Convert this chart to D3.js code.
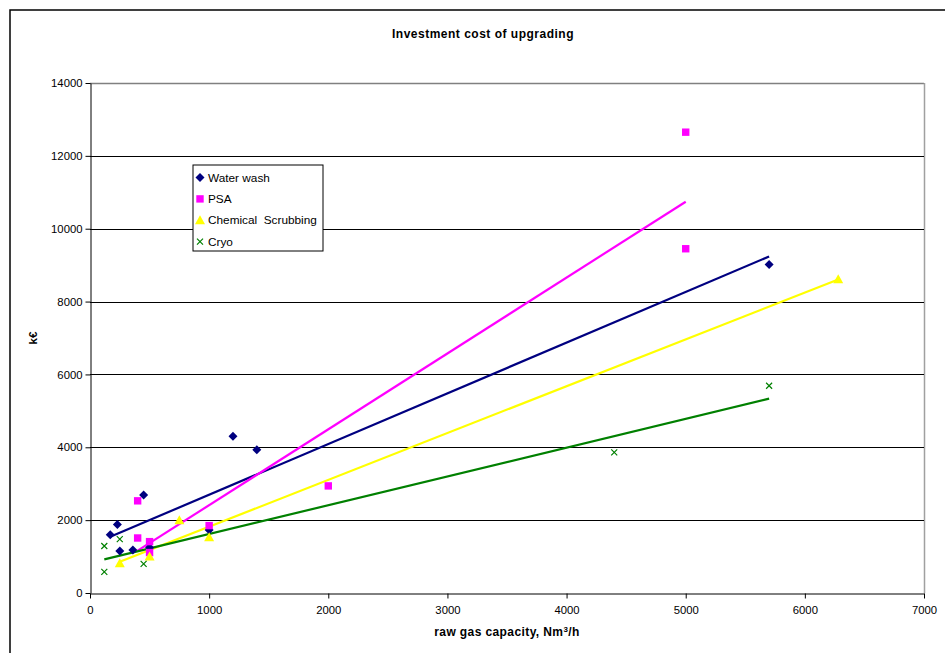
<!DOCTYPE html>
<html><head><meta charset="utf-8">
<script src="https://cdn.jsdelivr.net/npm/d3@7"></script>
<style>body{margin:0;background:#fff}svg{font-family:"Liberation Sans",Arial,sans-serif}</style>
</head><body><svg id="c" width="945" height="653"></svg>
<script>
const title = "Investment cost of upgrading";
const xTicks = [0,1000,2000,3000,4000,5000,6000,7000];
const yTicks = [0,2000,4000,6000,8000,10000,12000,14000];
const seriesNames = ["Water wash","PSA","Chemical  Scrubbing","Cryo"];
const seriesColors = ["#000080","#FF00FF","#FFFF00","#008000"];
const waterX = [170,230,450,250,360,500,1000,1200,1400,5700];
const waterY = [1600,1880,2690,1150,1180,1250,1730,4300,3930,9020];
const psaX = [400,400,500,500,1000,2000,5000,5000];
const psaY = [2530,1510,1410,1110,1850,2940,12650,9450];
const chemX = [250,500,750,1000,6280];
const chemY = [820,1000,2000,1530,8610];
const cryoX = [120,120,250,450,4400,5700];
const cryoY = [1290,580,1480,800,3860,5690];

const series = [
  {name:seriesNames[0],color:seriesColors[0],shape:"diamond",x:waterX,y:waterY},
  {name:seriesNames[1],color:seriesColors[1],shape:"square",x:psaX,y:psaY},
  {name:seriesNames[2],color:seriesColors[2],shape:"triangle",x:chemX,y:chemY},
  {name:seriesNames[3],color:seriesColors[3],shape:"cross",x:cryoX,y:cryoY}
];

const svg = d3.select("#c");
const L=90,R=924,T=83,B=593;
const x = d3.scaleLinear().domain([0,7000]).range([L,R]);
const y = d3.scaleLinear().domain([0,14000]).range([B,T]);

// outer chart border
svg.append("rect").attr("x",10).attr("y",10).attr("width",960).attr("height",700)
  .attr("fill","none").attr("stroke","#000").attr("stroke-width",1.5);

// plot border (top/right gray)
svg.append("line").attr("x1",L).attr("x2",R).attr("y1",T+0.5).attr("y2",T+0.5).attr("stroke","#808080").attr("stroke-width",1.5);
svg.append("line").attr("x1",R+0.5).attr("x2",R+0.5).attr("y1",T).attr("y2",B).attr("stroke","#a0a0a0").attr("stroke-width",1.5);

// gridlines
svg.append("g").selectAll("line").data(yTicks.filter(d=>d>0&&d<14000)).join("line")
  .attr("x1",L).attr("x2",R).attr("y1",d=>Math.round(y(d))+0.5).attr("y2",d=>Math.round(y(d))+0.5)
  .attr("stroke","#000").attr("stroke-width",1);

// axes
const xa = svg.append("g").attr("transform",`translate(0,${B+0.5})`)
  .call(d3.axisBottom(x).tickValues(xTicks).tickSize(5).tickSizeOuter(0).tickFormat(d3.format("d")));
const ya = svg.append("g").attr("transform",`translate(${L+0.5},0)`)
  .call(d3.axisLeft(y).tickValues(yTicks).tickSize(5).tickSizeOuter(0).tickFormat(d3.format("d")));
[xa,ya].forEach(a=>{a.select(".domain").attr("stroke","#000");a.selectAll(".tick line").attr("stroke","#000");
  a.selectAll("text").attr("font-size",11.3).attr("fill","#000").attr("font-family","'Liberation Sans',Arial,sans-serif");});
xa.selectAll("text").attr("dy","0.71em").attr("y",12);
ya.selectAll("text").attr("x",-8);

// trendlines (least squares) over each series' x-range
function fit(xs,ys){const n=xs.length,mx=d3.mean(xs),my=d3.mean(ys);
  let sxy=0,sxx=0;for(let i=0;i<n;i++){sxy+=(xs[i]-mx)*(ys[i]-my);sxx+=(xs[i]-mx)**2;}
  const b=sxy/sxx;return {b,a:my-b*mx};}
const lg = svg.append("g");
series.forEach(s=>{const f=fit(s.x,s.y);const x0=d3.min(s.x),x1=d3.max(s.x);
  lg.append("line").attr("x1",x(x0)).attr("y1",y(f.a+f.b*x0)).attr("x2",x(x1)).attr("y2",y(f.a+f.b*x1))
    .attr("stroke",s.color).attr("stroke-width",2.2);});

// markers
function marker(g,shape,color,cx,cy){
  if(shape==="diamond") g.append("path").attr("d",`M${cx},${cy-4.5}L${cx+4.5},${cy}L${cx},${cy+4.5}L${cx-4.5},${cy}Z`).attr("fill",color);
  else if(shape==="square") g.append("rect").attr("x",cx-3.7).attr("y",cy-3.7).attr("width",7.4).attr("height",7.4).attr("fill",color);
  else if(shape==="triangle") g.append("path").attr("d",`M${cx},${cy-5}L${cx+5},${cy+4}L${cx-5},${cy+4}Z`).attr("fill",color);
  else g.append("path").attr("d",`M${cx-3},${cy-3}L${cx+3},${cy+3}M${cx-3},${cy+3}L${cx+3},${cy-3}`).attr("stroke",color).attr("stroke-width",1.2).attr("fill","none");
}
const mg = svg.append("g");
series.forEach(s=>{s.x.forEach((xv,i)=>marker(mg,s.shape,s.color,x(xv),y(s.y[i])));});

// legend
const leg = svg.append("g");
leg.append("rect").attr("x",193).attr("y",165).attr("width",130).attr("height",86).attr("fill","#fff").attr("stroke","#000").attr("stroke-width",1);
series.forEach((s,i)=>{const cy=177.5+i*21.4;
  marker(leg,s.shape,s.color,200,cy);
  leg.append("text").attr("x",208).attr("y",cy+4).attr("font-size",11.8).attr("fill","#000").text(s.name).style("white-space","pre");});

// titles
svg.append("text").attr("x",483).attr("y",38).attr("text-anchor","middle").attr("font-size",12).attr("letter-spacing",0.5).attr("font-weight","bold").text(title);
const xl = svg.append("text").attr("x",507).attr("y",636).attr("text-anchor","middle").attr("font-size",12).attr("letter-spacing",0.4).attr("font-weight","bold");
xl.append("tspan").text("raw gas capacity, Nm");
xl.append("tspan").attr("font-size",8).attr("dy",-4).text("3");
xl.append("tspan").attr("dy",4).text("/h");
svg.append("text").attr("transform","translate(37,338) rotate(-90)").attr("text-anchor","middle").attr("font-size",11.5).attr("font-weight","bold").text("k€");
</script></body></html>
